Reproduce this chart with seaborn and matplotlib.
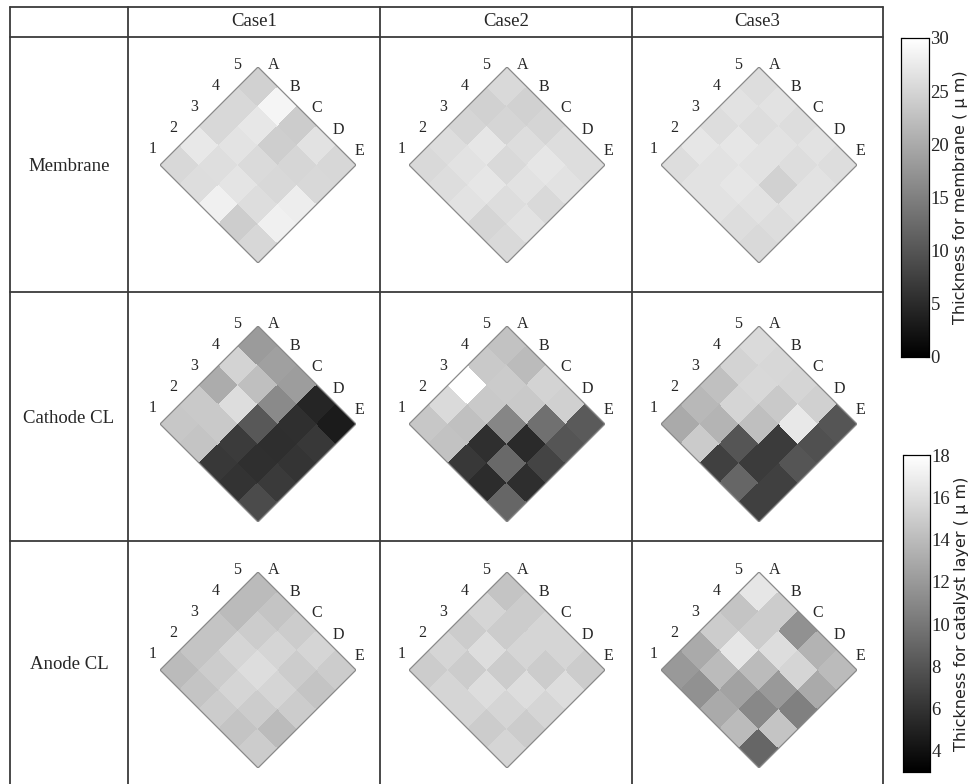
import numpy as np
import pandas as pd
import matplotlib
matplotlib.use("Agg")
import matplotlib.pyplot as plt
import seaborn as sns
from matplotlib.transforms import Affine2D
from matplotlib.patches import Polygon
from matplotlib.lines import Line2D

sns.set_theme(style="white")
plt.rcParams["font.family"] = ["Liberation Serif", "DejaVu Serif"]

cases = ["Case1", "Case2", "Case3"]
layers = ["Membrane", "Cathode CL", "Anode CL"]
row_labels = ["1", "2", "3", "4", "5"]
col_labels = ["A", "B", "C", "D", "E"]

# thickness maps (um); each list row is a row label 1..5, entries are columns A..E
membrane_case1 = [
    [25.4, 26.0, 28.2, 24.1, 25.2],
    [27.3, 26.1, 26.8, 25.9, 28.2],
    [25.4, 26.7, 25.6, 25.4, 27.8],
    [25.4, 27.1, 24.2, 25.1, 25.4],
    [24.5, 28.8, 24.0, 26.6, 25.2],
]
membrane_case2 = [
    [25.5, 26.0, 26.5, 25.0, 25.5],
    [26.0, 26.5, 27.0, 26.0, 26.5],
    [25.0, 27.0, 25.5, 26.5, 25.5],
    [24.5, 25.0, 26.0, 27.0, 26.5],
    [25.5, 24.5, 25.0, 26.0, 26.0],
]
membrane_case3 = [
    [26.0, 26.5, 26.5, 26.0, 25.5],
    [27.0, 26.5, 27.0, 26.5, 26.0],
    [26.0, 27.0, 26.5, 24.5, 26.5],
    [26.5, 26.0, 26.5, 26.0, 26.5],
    [26.0, 26.5, 26.0, 26.5, 26.0],
]
cathode_case1 = [
    [14.7, 14.5, 6.3, 6.0, 7.4],
    [14.8, 14.8, 6.5, 5.8, 6.4],
    [13.1, 16.0, 8.2, 5.7, 6.1],
    [15.4, 14.2, 11.1, 5.8, 6.3],
    [12.1, 12.4, 12.2, 5.2, 4.6],
]
cathode_case2 = [
    [14.7, 14.4, 6.3, 5.6, 9.0],
    [15.8, 14.3, 5.8, 9.2, 5.7],
    [18.0, 14.8, 10.9, 5.5, 7.0],
    [14.8, 14.9, 14.8, 9.6, 8.0],
    [14.4, 14.0, 15.4, 15.2, 8.3],
]
cathode_case3 = [
    [13.0, 14.9, 6.8, 9.0, 6.8],
    [13.8, 13.6, 8.0, 6.5, 6.8],
    [14.3, 15.5, 14.2, 6.5, 8.0],
    [15.4, 15.7, 14.8, 16.6, 7.7],
    [15.8, 15.6, 15.5, 15.2, 8.0],
]
anode_case1 = [
    [14.0, 14.5, 15.0, 14.5, 15.0],
    [14.5, 15.0, 15.5, 15.0, 14.0],
    [14.5, 15.5, 16.0, 15.5, 15.0],
    [14.0, 15.0, 15.5, 15.0, 14.5],
    [14.0, 14.5, 15.0, 15.5, 15.0],
]
anode_case2 = [
    [15.0, 15.5, 15.5, 15.0, 15.5],
    [15.5, 15.0, 16.0, 15.5, 15.0],
    [15.0, 16.0, 15.0, 16.0, 15.5],
    [15.5, 15.0, 15.5, 15.0, 16.0],
    [14.5, 15.0, 15.5, 15.5, 15.0],
]
anode_case3 = [
    [12.0, 11.5, 13.0, 14.0, 9.0],
    [13.0, 14.0, 12.5, 11.0, 14.5],
    [15.0, 16.5, 14.0, 12.0, 10.5],
    [14.5, 15.0, 16.0, 15.5, 13.0],
    [16.5, 15.0, 11.5, 13.5, 14.0],
]

maps = [
    [membrane_case1, membrane_case2, membrane_case3],
    [cathode_case1, cathode_case2, cathode_case3],
    [anode_case1, anode_case2, anode_case3],
]
membrane_range = (0, 30)
catalyst_range = (3, 18)
membrane_ticks = [0, 5, 10, 15, 20, 25, 30]
catalyst_ticks = [4, 6, 8, 10, 12, 14, 16, 18]

W, H = 977, 784
fig = plt.figure(figsize=(W / 100, H / 100), dpi=100)


def fx(px):
    return px / W


def fy(py):
    return 1 - py / H


# table grid
col_edges = [10, 128, 380, 632, 883]
row_edges = [7, 37, 292, 541, H]
grid_kw = dict(color="#3a3a3a", lw=1.3, transform=fig.transFigure)
for x in col_edges:
    fig.add_artist(Line2D([fx(x), fx(x)], [fy(row_edges[0]), fy(row_edges[-1])], **grid_kw))
for y in row_edges[:-1]:
    fig.add_artist(Line2D([fx(col_edges[0]), fx(col_edges[-1])], [fy(y), fy(y)], **grid_kw))

for c, name in enumerate(cases):
    fig.text(fx((col_edges[c + 1] + col_edges[c + 2]) / 2), fy(22), name,
             ha="center", va="center", fontsize=13.5)
for r, name in enumerate(layers):
    fig.text(fx((col_edges[0] + col_edges[1]) / 2), fy((row_edges[r + 1] + row_edges[r + 2]) / 2 + 2),
             name, ha="center", va="center", fontsize=13.5)

# colorbar axes
cax_m = fig.add_axes([fx(901), fy(357), fx(929) - fx(901), fy(38) - fy(357)])
cax_c = fig.add_axes([fx(903), fy(772), fx(930) - fx(903), fy(455) - fy(772)])

# rotate each grid by 45 degrees: (x, y) -> (x + y, x - y)
rot = Affine2D(np.array([[1.0, 1.0, 0.0], [1.0, -1.0, 0.0], [0.0, 0.0, 1.0]]))

centers_x = [258, 507, 759]
centers_y = [165, 424, 670]
size = 196

for r in range(3):
    for c in range(3):
        cx, cy = centers_x[c], centers_y[r]
        ax = fig.add_axes([fx(cx - size / 2), fy(cy + size / 2), size / W, size / H])
        vmin, vmax = membrane_range if r == 0 else catalyst_range
        df = pd.DataFrame(np.array(maps[r][c]).T, index=col_labels, columns=row_labels)
        first = c == 0 and r < 2
        cax = cax_m if r == 0 else cax_c
        sns.heatmap(df, ax=ax, cmap="gray", vmin=vmin, vmax=vmax,
                    cbar=first, cbar_ax=cax if first else None,
                    cbar_kws={"ticks": membrane_ticks if r == 0 else catalyst_ticks})
        mesh = ax.collections[0]
        mesh.set_transform(rot + ax.transData)
        outline = Polygon([[0, 0], [5, 0], [5, 5], [0, 5]], closed=True, fill=False,
                          edgecolor="#8a8a8a", lw=0.9, transform=rot + ax.transData)
        ax.add_patch(outline)
        ax.set_xlim(0, 10)
        ax.set_ylim(-5, 5)
        ax.axis("off")
        for i, lab in enumerate(row_labels):
            x, y = 0.2 + 1.08 * i, -0.6
            ax.text(x + y, x - y, lab, ha="center", va="center", fontsize=11.5)
        for j, lab in enumerate(col_labels):
            x, y = 5.45, 0.35 + 1.1 * j
            ax.text(x + y, x - y, lab, ha="center", va="center", fontsize=11.5)

for cax, label in [(cax_m, "Thickness for membrane ( \u03bc m)"),
                   (cax_c, "Thickness for catalyst layer ( \u03bc m)")]:
    for sp in cax.spines.values():
        sp.set_visible(True)
        sp.set_color("black")
        sp.set_linewidth(0.8)
    cax.tick_params(axis="y", direction="in", length=3, width=0.8, left=True, right=True,
                    labelleft=False, labelright=True, labelsize=13.5, pad=1, color="#333333")
    for t in cax.get_yticklabels():
        t.set_fontfamily("Liberation Serif")
    cax.yaxis.set_label_position("right")
    cax.set_ylabel(label, fontsize=11.5, family="DejaVu Sans", labelpad=3, color="#222222")

fig.savefig("out.png", dpi=100, facecolor="white")
